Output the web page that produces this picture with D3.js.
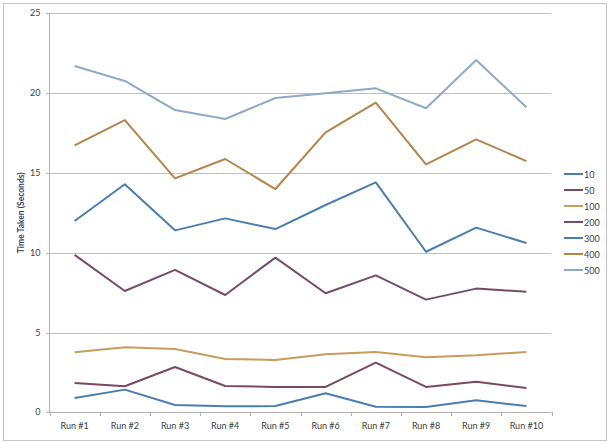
<!DOCTYPE html>
<html><head><meta charset="utf-8">
<script src="https://cdn.jsdelivr.net/npm/d3@7"></script>
<style>body{margin:0;background:#fff}svg{display:block}text{font-family:"Lato","Liberation Sans",sans-serif}</style>
</head><body>
<svg id="c" width="610" height="444"></svg>
<script>
const categories = ["Run #1","Run #2","Run #3","Run #4","Run #5","Run #6","Run #7","Run #8","Run #9","Run #10"];
const seriesNames = ["10","50","100","200","300","400","500"];
const s10  = [0.90,1.42,0.46,0.38,0.39,1.19,0.35,0.33,0.75,0.39];
const s50  = [1.84,1.63,2.84,1.65,1.59,1.59,3.11,1.59,1.92,1.52];
const s100 = [3.76,4.07,3.97,3.34,3.28,3.63,3.78,3.45,3.57,3.78];
const s200 = [9.86,7.60,8.92,7.35,9.69,7.46,8.58,7.06,7.75,7.56];
const s300 = [11.99,14.29,11.40,12.15,11.48,12.99,14.41,10.06,11.57,10.61];
const s400 = [16.73,18.31,14.66,15.87,13.99,17.54,19.40,15.54,17.10,15.74];
const s500 = [21.70,20.76,18.94,18.38,19.69,19.99,20.30,19.05,22.07,19.11];
const yTicks = [0,5,10,15,20,25];
const colors = ["#4a7db0","#7a4a63","#c79d5e","#754c6b","#4a7db0","#b5844a","#8ea9c9"];
const allSeries = [s10,s50,s100,s200,s300,s400,s500];

const svg = d3.select("#c");
svg.append("rect").attr("x",3.5).attr("y",3.5).attr("width",603).attr("height",437)
  .attr("fill","#fff").attr("stroke","#c4c4c4");

const L=49.5, R=551.5, T=13.3, B=412.3;
const x = d3.scaleBand().domain(categories).range([L,R]);
const y = d3.scaleLinear().domain([0,25]).range([B,T]);

// gridlines
svg.append("g").selectAll("line").data(yTicks.filter(d=>d>0)).join("line")
  .attr("x1",L).attr("x2",R).attr("y1",d=>Math.round(y(d))+0.5).attr("y2",d=>Math.round(y(d))+0.5)
  .attr("stroke","#c0c0c0");

// y axis
const ya = svg.append("g").attr("transform",`translate(${L},0.5)`)
  .call(d3.axisLeft(y).tickValues(yTicks).tickSize(3).tickPadding(6));
ya.select(".domain").attr("stroke","#b0b0b0").attr("d",`M-3,${Math.round(T)}H0V${Math.round(B)}H-3`);
ya.selectAll(".tick line").attr("stroke","#b0b0b0");
ya.selectAll(".tick").attr("transform",d=>`translate(0,${Math.round(y(d))})`);
ya.selectAll("text").attr("font-size",9).attr("fill","#404040").attr("font-family","Lato, sans-serif");

// x axis
const xa = svg.append("g").attr("transform",`translate(0,${Math.round(B)+0.5})`)
  .call(d3.axisBottom(x).tickSize(0).tickPadding(10));
xa.select(".domain").attr("stroke","#b0b0b0").attr("d",`M${L},0H${R}`);
xa.selectAll("text").attr("font-size",9).attr("fill","#404040").attr("font-family","Lato, sans-serif");
svg.append("g").selectAll("line").data(d3.range(categories.length+1)).join("line")
  .attr("x1",i=>Math.round(L+i*x.step())+0.5).attr("x2",i=>Math.round(L+i*x.step())+0.5)
  .attr("y1",Math.round(B)).attr("y2",Math.round(B)+4).attr("stroke","#b0b0b0");

// y title
svg.append("text").attr("transform",`translate(21,${(T+B)/2}) rotate(-90)`)
  .attr("text-anchor","middle").attr("dominant-baseline","central")
  .attr("font-size",8.5).attr("font-weight","bold").attr("fill","#3c3c64")
  .text("Time Taken (Seconds)");

// lines
const line = d3.line().x((d,i)=>x(categories[i])+x.bandwidth()/2).y(d=>y(d));
allSeries.forEach((s,k)=>{
  svg.append("path").datum(s).attr("d",line).attr("fill","none")
    .attr("stroke",colors[k]).attr("stroke-width",2).attr("stroke-linejoin","round");
});

// legend
const lg = svg.append("g");
seriesNames.forEach((n,k)=>{
  const yy = 174 + k*16;
  lg.append("line").attr("x1",564).attr("x2",583).attr("y1",yy).attr("y2",yy)
    .attr("stroke",colors[k]).attr("stroke-width",2);
  lg.append("text").attr("x",584).attr("y",yy).attr("dominant-baseline","central")
    .attr("font-size",9).attr("fill","#404040").text(n);
});
</script>
</body></html>
